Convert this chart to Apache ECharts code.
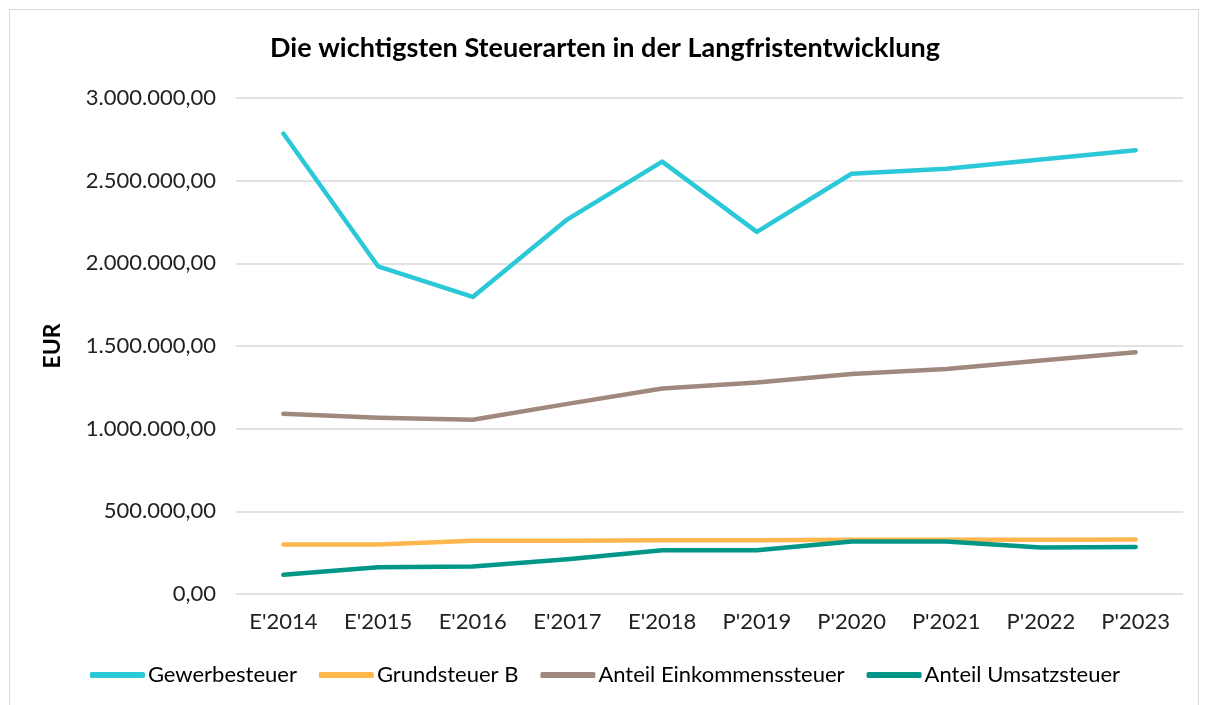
<!DOCTYPE html>
<html>
<head>
<meta charset="utf-8">
<script src="https://cdn.jsdelivr.net/npm/echarts@6/dist/echarts.min.js"></script>
<style>
  html, body { margin: 0; padding: 0; background: #fff; }
  #frame { position: absolute; left: 9px; top: 9px; width: 1190px; height: 700px; border: 1px solid #d9d9d9; border-bottom: none; box-sizing: border-box; }
  #chart { width: 1210px; height: 705px; }
</style>
</head>
<body>
<div id="frame"></div>
<div id="chart"></div>
<script>
// Kategorien (E = Ergebnis, P = Planung)
const years = ["E'2014", "E'2015", "E'2016", "E'2017", "E'2018", "P'2019", "P'2020", "P'2021", "P'2022", "P'2023"];

const gewerbesteuer = [2785000, 1982000, 1797000, 2266000, 2615000, 2190000, 2542000, 2572000, 2628000, 2684000];
const grundsteuerB = [300000, 300000, 322000, 322000, 325000, 325000, 328000, 328000, 328000, 330000];
const einkommensteuer = [1090000, 1066000, 1054000, 1150000, 1243000, 1279000, 1331000, 1361000, 1412000, 1462000];
const umsatzsteuer = [116000, 162000, 166000, 210000, 264000, 265000, 318000, 318000, 281000, 285000];

const font = 'Lato, "Open Sans", sans-serif';

function deFormat(v) {
    let parts = Math.round(v).toString().replace(/\B(?=(\d{3})+(?!\d))/g, '.');
    return parts + ',00';
}

let myChart = echarts.init(document.getElementById('chart'));

function line(name, data, color) {
    return {
        name: name,
        type: 'line',
        data: data,
        symbol: 'none',
        color: color,
        lineStyle: { width: 4.5, color: color, cap: 'round', join: 'round' }
    };
}

myChart.setOption({
    animation: false,
    title: {
        text: 'Die wichtigsten Steuerarten in der Langfristentwicklung',
        left: 'center',
        top: 30,
        textStyle: { fontFamily: font, fontSize: 27, fontWeight: 'bold', color: '#000' }
    },
    legend: {
        bottom: 14,
        left: 'center',
        icon: 'roundRect',
        itemWidth: 55,
        itemHeight: 6,
        itemGap: 22,
        textStyle: { fontFamily: font, fontSize: 22, color: '#000', padding: [0, 0, 0, -2] },
        data: ['Gewerbesteuer', 'Grundsteuer B', 'Anteil Einkommenssteuer', 'Anteil Umsatzsteuer']
    },
    grid: { left: 236, right: 27, top: 98, bottom: 111 },
    xAxis: {
        type: 'category',
        boundaryGap: true,
        data: years,
        axisLine: { show: false },
        axisTick: { show: false },
        axisLabel: { fontFamily: font, fontSize: 22, color: '#222', margin: 17 }
    },
    yAxis: {
        type: 'value',
        min: 0,
        max: 3000000,
        interval: 500000,
        name: 'EUR',
        nameLocation: 'middle',
        nameGap: 172,
        nameTextStyle: { fontFamily: font, fontSize: 23, fontWeight: 'bold', color: '#000' },
        axisLabel: { fontFamily: font, fontSize: 22, color: '#222', margin: 20, formatter: deFormat },
        splitLine: { lineStyle: { color: '#d9d9d9', width: 1.5 } }
    },
    series: [
        line('Gewerbesteuer', gewerbesteuer, '#2BC8D8'),
        line('Grundsteuer B', grundsteuerB, '#FFB74D'),
        line('Anteil Einkommenssteuer', einkommensteuer, '#A1887F'),
        line('Anteil Umsatzsteuer', umsatzsteuer, '#009688')
    ]
});
</script>
</body>
</html>
